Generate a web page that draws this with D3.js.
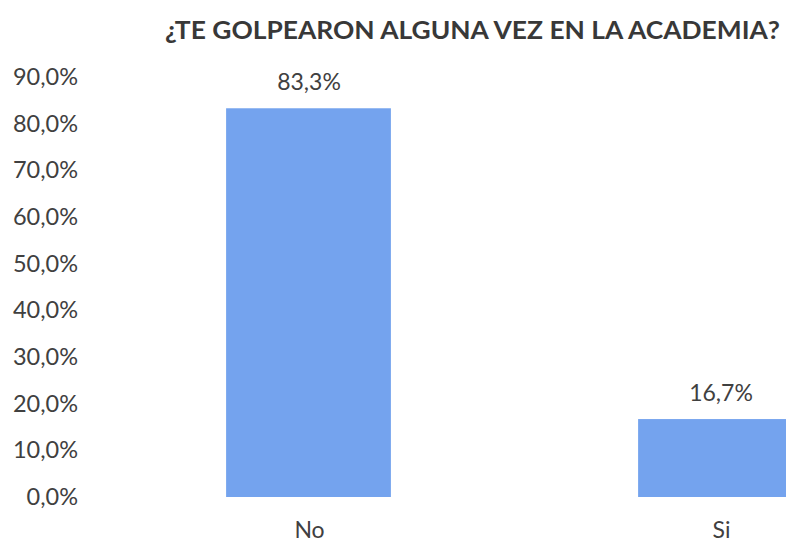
<!DOCTYPE html>
<html>
<head>
<meta charset="utf-8">
<script src="https://cdn.jsdelivr.net/npm/d3@7"></script>
<style>
	body { margin: 0; background: #fff; }
	svg { display: block; }
</style>
</head>
<body>
<svg id="bar-chart"></svg>
<script>
const categories = ['No', 'Si'];
const values = [83.3, 16.7];
const tickValues = [0, 10, 20, 30, 40, 50, 60, 70, 80, 90];
const title = '¿TE GOLPEARON ALGUNA VEZ EN LA ACADEMIA?';

function drawChart() {
	const width = 786;
	const height = 542;
	const svg = d3.select('#bar-chart');
	//clear screen
	svg.selectAll('*').remove();
	svg.attr('width', width).attr('height', height).attr('viewBox', [0, 0, width, height]);

	const data = categories.map((c, i) => ({ cat: c, value: values[i] }));

	// scales
	const y = d3.scaleLinear().domain([0, 90]).range([497, 77]);
	const x = d3
		.scaleBand()
		.domain(categories)
		.range([102.5, 926.5])
		.paddingInner(0.6)
		.paddingOuter(0.3);

	const fmt = (v) => d3.format('.1f')(v).replace('.', ',') + '%';
	const labelFont = 'Lato, sans-serif';

	// title
	svg
		.append('text')
		.attr('x', 165)
		.attr('y', 38.5)
		.attr('textLength', 615)
		.attr('lengthAdjust', 'spacingAndGlyphs')
		.attr('font-family', 'Lato, sans-serif')
		.attr('font-weight', 'bold')
		.attr('font-size', 25)
		.attr('fill', '#383838')
		.text(title);

	// bars
	svg
		.append('g')
		.selectAll()
		.data(data)
		.join('rect')
		.attr('fill', '#74a3ee')
		.attr('x', (d) => x(d.cat))
		.attr('y', (d) => y(d.value))
		.attr('width', x.bandwidth())
		.attr('height', (d) => y(0) - y(d.value));

	// value labels
	svg
		.append('g')
		.attr('font-family', labelFont)
		.attr('font-size', 23)
		.attr('fill', '#404040')
		.selectAll()
		.data(data)
		.join('text')
		.attr('text-anchor', 'middle')
		.attr('x', (d) => x(d.cat) + x.bandwidth() / 2 + 0.5)
		.attr('y', (d) => y(d.value) - 26.5)
		.attr('dy', '0.35em')
		.text((d) => fmt(d.value));

	// y axis
	svg
		.append('g')
		.attr('transform', 'translate(84,0)')
		.call(d3.axisLeft(y).tickValues(tickValues).tickSize(0).tickPadding(6).tickFormat(fmt))
		.call((g) => g.select('.domain').remove())
		.call((g) =>
			g.selectAll('.tick text')
				.attr('font-family', labelFont)
				.attr('font-size', 23.5)
				.attr('fill', '#404040')
		);

	// x axis
	svg
		.append('g')
		.attr('transform', `translate(1,${y(0)})`)
		.call(d3.axisBottom(x).tickSize(0).tickPadding(25))
		.call((g) => g.select('.domain').remove())
		.call((g) =>
			g.selectAll('.tick text')
				.attr('font-family', labelFont)
				.attr('font-size', 23)
				.attr('fill', '#404040')
		);
}

drawChart();
</script>
</body>
</html>
